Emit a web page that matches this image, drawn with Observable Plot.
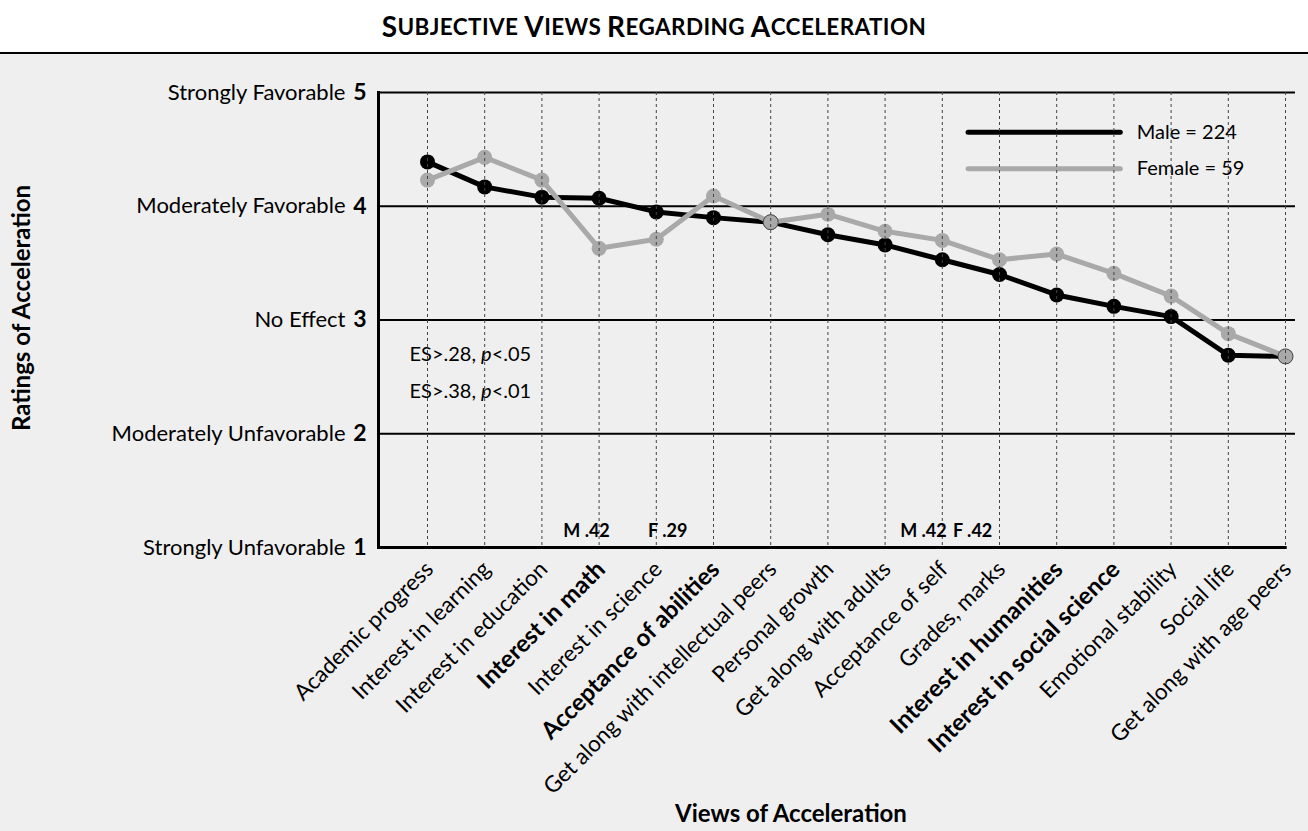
<!DOCTYPE html>
<html><head><meta charset="utf-8">
<script src="https://cdn.jsdelivr.net/npm/d3@7"></script>
<script src="https://cdn.jsdelivr.net/npm/@observablehq/plot@0.6"></script>
<style>
html,body{margin:0;padding:0;background:#efefef;font-family:Lato,sans-serif;}
#title{height:52px;background:#fff;border-bottom:2px solid #000;display:flex;align-items:center;justify-content:center;font-weight:bold;color:#000;white-space:pre;letter-spacing:0.4px;}
#title .cap{font-size:28px;}
#title .sc{font-size:22.5px;text-transform:uppercase;}
#chart svg{display:block;}
</style></head><body>
<div id="title"></div>
<div id="chart"></div>
<script>
const titleText = "Subjective Views Regarding Acceleration";
const categories = ["Academic progress","Interest in learning","Interest in education","Interest in math","Interest in science","Acceptance of abilities","Get along with intellectual peers","Personal growth","Get along with adults","Acceptance of self","Grades, marks","Interest in humanities","Interest in social science","Emotional stability","Social life","Get along with age peers"];
const boldCategories = ["Interest in math","Acceptance of abilities","Interest in humanities","Interest in social science"];
const male   = [4.39,4.17,4.08,4.07,3.95,3.90,3.86,3.75,3.66,3.53,3.40,3.22,3.12,3.03,2.69,2.68];
const female = [4.23,4.43,4.23,3.63,3.71,4.09,3.86,3.93,3.78,3.70,3.53,3.58,3.41,3.21,2.88,2.68];
const yLevels = [1,2,3,4,5];
const yNames = ["Strongly Unfavorable","Moderately Unfavorable","No Effect","Moderately Favorable","Strongly Favorable"];
const seriesNames = ["Male = 224","Female = 59"];
const seriesColors = ["#000000","#a9a9a9"];
const sigNotes = ["ES>.28, p<.05","ES>.38, p<.01"];
const esLabels = ["M .42","F .29","M .42","F .42"];
const esAt = [2.78,4.20,8.67,9.53];

// title in small caps: first letter of each word larger
const titleEl = document.getElementById("title");
const words = titleText.split(" ");
words.forEach((w,k)=>{
  const a = document.createElement("span"); a.className="cap"; a.textContent = w[0];
  const b = document.createElement("span"); b.className="sc"; b.textContent = w.slice(1) + (k < words.length-1 ? " " : "");
  titleEl.append(a,b);
});

const rows = categories.map((c,i)=>({i,c,male:male[i],female:female[i],bold:boldCategories.includes(c)}));
const legend = seriesNames.map((name,k)=>({name,color:seriesColors[k],y:4.65-k*0.32}));
const notes = sigNotes.map((t,k)=>({t,y:2.70-k*0.33}));
const es = esLabels.map((t,k)=>({t,x:esAt[k]}));

const chart = Plot.plot({
  width:1308, height:777,
  marginLeft:378, marginRight:13, marginTop:38, marginBottom:284,
  style:{background:"#efefef", fontFamily:"Lato, sans-serif", overflow:"visible", color:"#000"},
  x:{domain:[-0.8566,15.1748], axis:null},
  y:{domain:[1,5], axis:null},
  marks:[
    Plot.ruleY([2,3,4,5],{stroke:"#000",strokeWidth:2}),
    Plot.line(rows,{x:"i",y:"male",stroke:seriesColors[0],strokeWidth:5}),
    Plot.dot(rows,{x:"i",y:"male",r:7.5,fill:seriesColors[0]}),
    Plot.line(rows,{x:"i",y:"female",stroke:seriesColors[1],strokeWidth:5}),
    Plot.dot(rows,{x:"i",y:"female",r:7.5,fill:seriesColors[1]}),
    Plot.dot(rows.filter(d=>d.male===d.female),{x:"i",y:"female",r:7.5,fill:seriesColors[1],stroke:"#444",strokeWidth:1}),
    Plot.ruleY(legend,{y:"y",x1:9.46,x2:12.12,stroke:"color",strokeWidth:5,strokeLinecap:"round"}),
    Plot.text(legend,{y:"y",x:12.12,text:"name",dx:16,textAnchor:"start",fontSize:20,fill:"#000"}),
    Plot.ruleX(rows,{x:"i",stroke:"#444",strokeWidth:1,strokeDasharray:"3,3"}),
    Plot.ruleY([1],{x1:-0.8566,x2:15.03,stroke:"#000",strokeWidth:3}),
    Plot.frame({anchor:"left",stroke:"#000",strokeWidth:3}),
    // y tick labels
    Plot.text(yLevels,{y:d=>d,text:(d,i)=>yNames[i],frameAnchor:"left",textAnchor:"end",dx:-33,fontSize:22,fill:"#000"}),
    Plot.text(yLevels,{y:d=>d,text:d=>String(d),frameAnchor:"left",textAnchor:"end",dx:-12,fontSize:23,fontWeight:"bold",fill:"#000"}),
    // x tick labels
    Plot.text(rows.filter(d=>!d.bold),{x:"i",y:()=>1,text:"c",rotate:-45,textAnchor:"end",dx:2,dy:18,fontSize:22.5,fill:"#000"}),
    Plot.text(rows.filter(d=>d.bold),{x:"i",y:()=>1,text:"c",rotate:-45,textAnchor:"end",dx:2,dy:18,fontSize:24,fontWeight:"bold",fill:"#000"}),
    // annotations
    Plot.text(notes,{x:()=>-0.315,y:"y",text:"t",textAnchor:"start",fontSize:20,fill:"#000"}),
    Plot.text(es,{x:"x",y:()=>1.14,text:"t",fontSize:18,fontWeight:"bold",fill:"#000"}),
    // axis titles
    Plot.text(["Ratings of Acceleration"],{frameAnchor:"left",textAnchor:"middle",rotate:-90,dx:-356,dy:-12,fontSize:24,fontWeight:"bold",fill:"#000"}),
    Plot.text(["Views of Acceleration"],{frameAnchor:"bottom",textAnchor:"middle",lineAnchor:"bottom",dx:-46,dy:274,fontSize:24,fontWeight:"bold",fill:"#000"})
  ]
});
document.getElementById("chart").appendChild(chart);
// italicize the "p" in the significance notes
chart.querySelectorAll("text").forEach(t=>{
  const s = t.textContent;
  if (sigNotes.includes(s)) {
    const k = s.indexOf("p<");
    t.textContent = "";
    const a = document.createElementNS("http://www.w3.org/2000/svg","tspan"); a.textContent = s.slice(0,k);
    const b = document.createElementNS("http://www.w3.org/2000/svg","tspan"); b.textContent = "p"; b.setAttribute("font-style","italic");
    const c = document.createElementNS("http://www.w3.org/2000/svg","tspan"); c.textContent = s.slice(k+1);
    t.append(a,b,c);
  }
});
</script></body></html>
